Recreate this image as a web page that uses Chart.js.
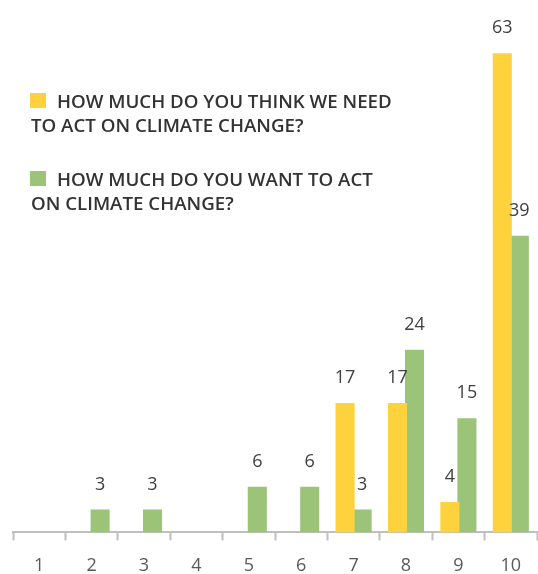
<!DOCTYPE html>
<html>
<head>
<meta charset="utf-8">
<script src="https://cdn.jsdelivr.net/npm/chart.js@4.4.1/dist/chart.umd.min.js"></script>
<style>
  html, body { margin: 0; padding: 0; background: #ffffff; }
  #wrap { width: 538px; height: 574px; }
</style>
</head>
<body>
<div id="wrap"><canvas id="chart-climate" width="538" height="574"></canvas></div>
<script>
// ------------------------------------------------------------
// Datos
// ------------------------------------------------------------
const scores     = ['1', '2', '3', '4', '5', '6', '7', '8', '9', '10'];
const needToAct  = [0, 0, 0, 0, 0, 0, 17, 17, 4, 63];
const wantToAct  = [0, 3, 3, 0, 6, 6, 3, 24, 15, 39];
const legendNeed = ['HOW MUCH DO YOU THINK WE NEED', 'TO ACT ON CLIMATE CHANGE?'];
const legendWant = ['HOW MUCH DO YOU WANT TO ACT', 'ON CLIMATE CHANGE?'];

const YELLOW = '#FDD23C';
const GREEN  = '#9CC479';

// ------------------------------------------------------------
// Etiquetas de valor sobre las barras (sin ceros)
// ------------------------------------------------------------
const valueLabels = {
    id: 'valueLabels',
    afterDatasetsDraw(chart) {
        const ctx = chart.ctx;
        ctx.save();
        ctx.font = '18px "Open Sans", sans-serif';
        ctx.fillStyle = '#404040';
        ctx.textAlign = 'center';
        ctx.textBaseline = 'middle';
        chart.data.datasets.forEach((ds, i) => {
            chart.getDatasetMeta(i).data.forEach((bar, j) => {
                const v = ds.data[j];
                if (v > 0) ctx.fillText(String(v), bar.x, bar.y - 25);
            });
        });
        ctx.restore();
    }
};

// ------------------------------------------------------------
// Leyenda en dos líneas (arriba a la izquierda)
// ------------------------------------------------------------
const wrappedLegend = {
    id: 'wrappedLegend',
    afterDraw(chart) {
        const ctx = chart.ctx;
        ctx.save();
        ctx.font = '600 18.7px "Open Sans", sans-serif';
        ctx.textAlign = 'left';
        ctx.textBaseline = 'alphabetic';

        const blocks = [
            { color: YELLOW, lines: legendNeed, y: 108 },
            { color: GREEN,  lines: legendWant, y: 186 }
        ];
        blocks.forEach(b => {
            ctx.fillStyle = b.color;
            ctx.fillRect(30, b.y - 15, 16, 15);
            ctx.fillStyle = '#333333';
            ctx.fillText(b.lines[0], 57, b.y);
            ctx.fillText(b.lines[1], 31, b.y + 24);
        });
        ctx.restore();
    }
};

new Chart(document.getElementById('chart-climate'), {
    type: 'bar',
    data: {
        labels: scores,
        datasets: [
            {
                label: legendNeed.join(' '),
                data: needToAct,
                backgroundColor: YELLOW,
                categoryPercentage: 0.65,
                barPercentage: 1.12
            },
            {
                label: legendWant.join(' '),
                data: wantToAct,
                backgroundColor: GREEN,
                categoryPercentage: 0.65,
                barPercentage: 1.12
            }
        ]
    },
    options: {
        responsive: false,
        animation: false,
        devicePixelRatio: 1,
        layout: { padding: { top: 0, left: 13, right: 1, bottom: -18 } },
        plugins: {
            legend: { display: false },
            tooltip: { enabled: false }
        },
        scales: {
            x: {
                grid: {
                    display: true,
                    drawOnChartArea: false,
                    drawTicks: true,
                    tickLength: 8,
                    tickWidth: 2,
                    color: '#BFBFBF',
                    offset: true
                },
                border: { display: true, color: '#BFBFBF', width: 2 },
                ticks: {
                    color: '#595959',
                    padding: 15,
                    font: { family: '"Open Sans", sans-serif', size: 18 }
                }
            },
            y: {
                display: false,
                min: 0,
                max: 70
            }
        }
    },
    plugins: [valueLabels, wrappedLegend]
});
</script>
</body>
</html>
